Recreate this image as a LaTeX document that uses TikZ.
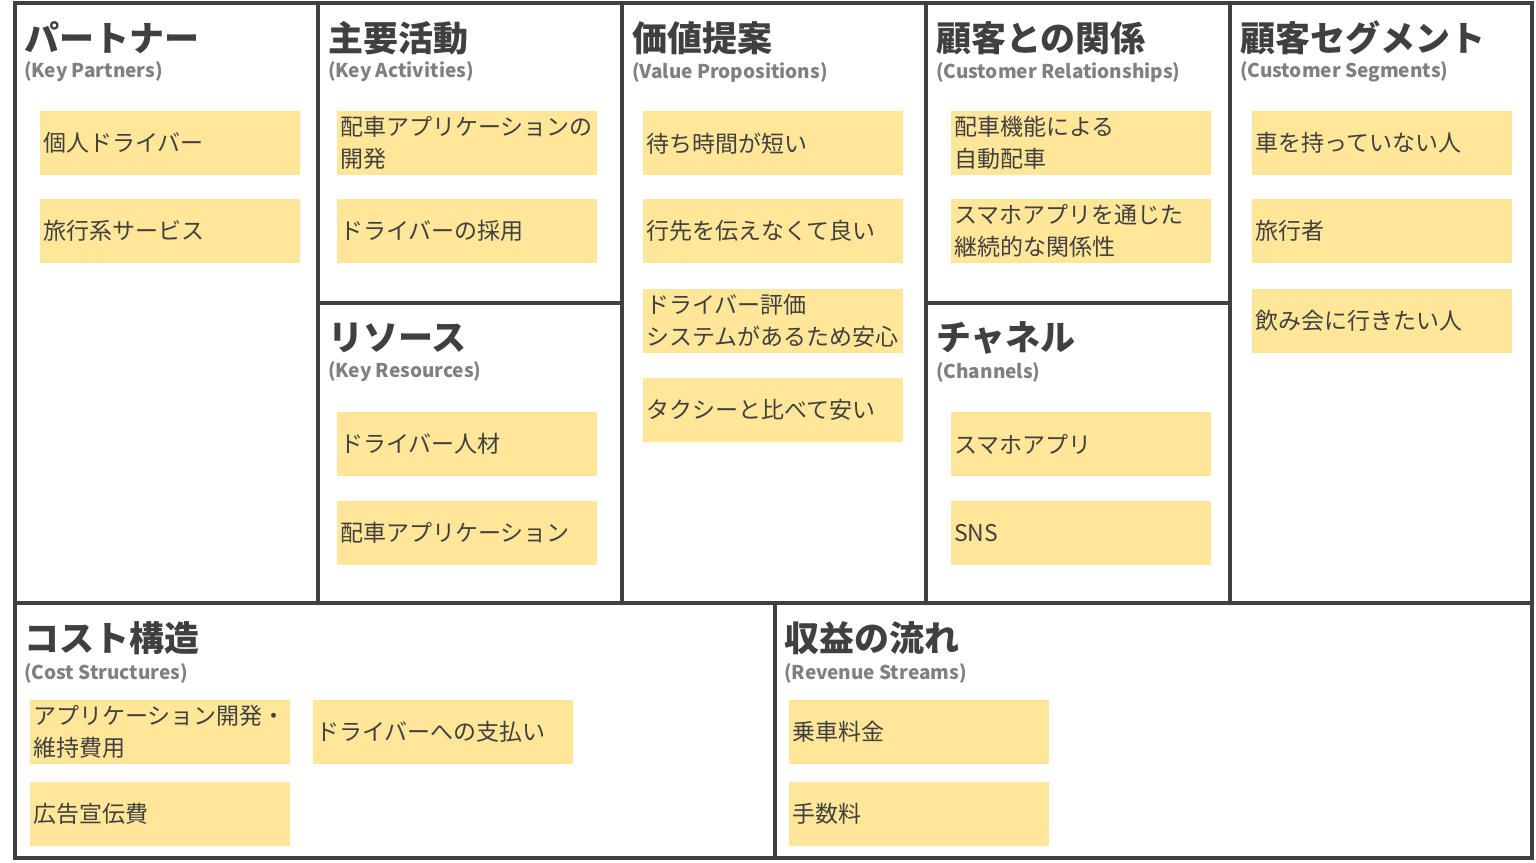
\documentclass[tikz,border=0pt]{standalone}
\usepackage{fontspec}
\setmainfont{Noto Sans CJK JP}
\definecolor{ink}{HTML}{404040}
\definecolor{sub}{HTML}{808080}
\definecolor{sticky}{HTML}{FFE699}
\begin{document}
\begin{tikzpicture}[x=1pt,y=-1pt,
  frame/.style={draw=ink,line width=4pt},
  ttl/.style={anchor=west,inner sep=0pt,text=ink,font=\fontsize{35}{40}\selectfont\bfseries},
  subt/.style={anchor=west,inner sep=0pt,text=sub,font=\fontsize{19}{22}\selectfont\bfseries},
  note/.style={fill=sticky,anchor=north west,minimum width=260pt,minimum height=64pt,text width=254pt,inner xsep=3pt,align=left,text=ink,font=\fontsize{23}{32}\selectfont}]
\useasboundingbox (0,0) rectangle (1536,862);
\fill[white] (0,0) rectangle (1536,862);
% frames
\draw[frame] (15,3) rectangle (1532,858);
\draw[frame] (15,603) -- (1532,603);
\foreach \x in {318,622,926,1230} \draw[frame] (\x,3) -- (\x,603);
\draw[frame] (318,303) -- (622,303);
\draw[frame] (926,303) -- (1230,303);
\draw[frame] (775,603) -- (775,858);
% titles
\node[ttl] (t1) at (24,38) {パートナー};
\node[subt] (s1) at (24,72) {(Key Partners)};
\node[ttl] (t2) at (328,38) {主要活動};
\node[subt] (s2) at (328,72) {(Key Activities)};
\node[ttl] (t3) at (328,338) {リソース};
\node[subt] (s3) at (328,372) {(Key Resources)};
\node[ttl] (t4) at (632,38) {価値提案};
\node[subt] (s4) at (632,72) {(Value Propositions)};
\node[ttl] (t5) at (936,38) {顧客との関係};
\node[subt] (s5) at (936,72) {(Customer Relationships)};
\node[ttl] (t6) at (936,338) {チャネル};
\node[subt] (s6) at (936,372) {(Channels)};
\node[ttl] (t7) at (1240,38) {顧客セグメント};
\node[subt] (s7) at (1240,72) {(Customer Segments)};
\node[ttl] (t8) at (24,638) {コスト構造};
\node[subt] (s8) at (24,673) {(Cost Structures)};
\node[ttl] (t9) at (784,638) {収益の流れ};
\node[subt] (s9) at (784,673) {(Revenue Streams)};
% notes
\node[note] (p1) at (40,111) {個人ドライバー};
\node[note] (p2) at (40,199) {旅行系サービス};
\node[note] (a1) at (337,111) {配車アプリケーションの\\開発};
\node[note] (a2) at (337,199) {ドライバーの採用};
\node[note] (r1) at (337,412) {ドライバー人材};
\node[note] (r2) at (337,501) {配車アプリケーション};
\node[note] (v1) at (643,111) {待ち時間が短い};
\node[note] (v2) at (643,199) {行先を伝えなくて良い};
\node[note] (v3) at (643,289) {ドライバー評価\\システムがあるため安心};
\node[note] (v4) at (643,378) {タクシーと比べて安い};
\node[note] (c1) at (951,111) {配車機能による\\自動配車};
\node[note] (c2) at (951,199) {スマホアプリを通じた\\継続的な関係性};
\node[note] (h1) at (951,412) {スマホアプリ};
\node[note] (h2) at (951,501) {SNS};
\node[note] (g1) at (1252,111) {車を持っていない人};
\node[note] (g2) at (1252,199) {旅行者};
\node[note] (g3) at (1252,289) {飲み会に行きたい人};
\node[note] (k1) at (30,700) {アプリケーション開発・\\維持費用};
\node[note] (k2) at (313,700) {ドライバーへの支払い};
\node[note] (k3) at (30,782) {広告宣伝費};
\node[note] (e1) at (789,700) {乗車料金};
\node[note] (e2) at (789,782) {手数料};
\end{tikzpicture}
\end{document}
